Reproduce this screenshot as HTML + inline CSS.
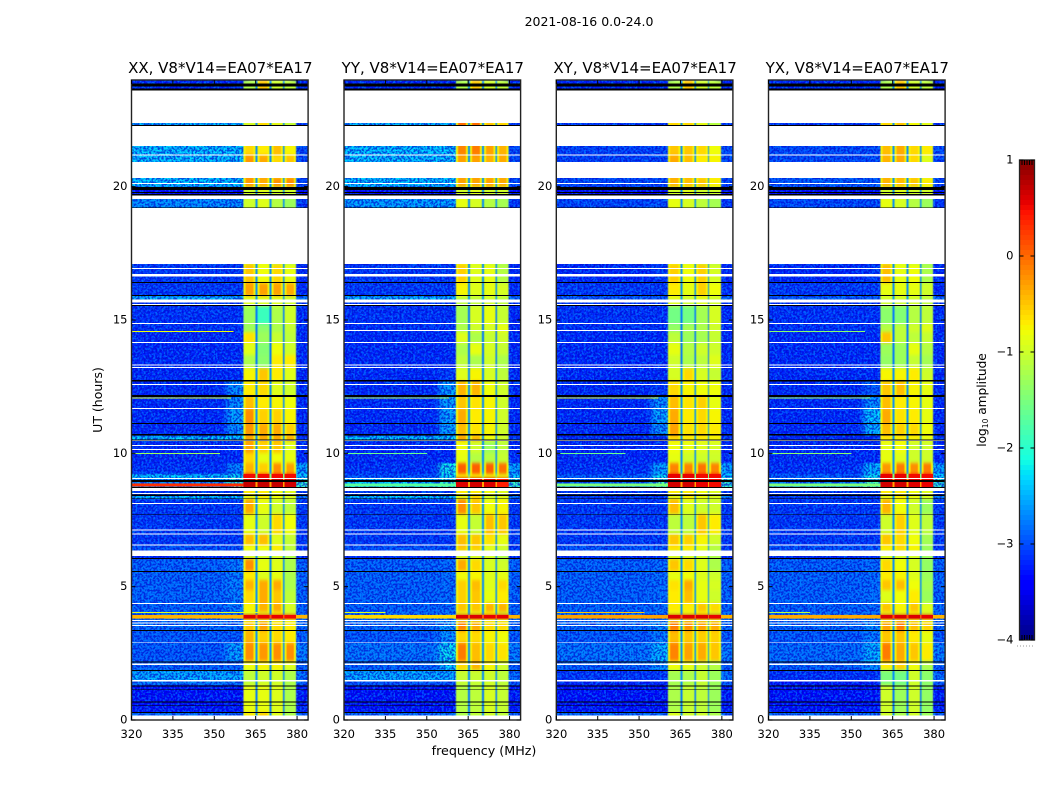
<!DOCTYPE html>
<html>
<head>
<meta charset="utf-8">
<title>2021-08-16 amplitude waterfall</title>
<style>
html,body{margin:0;padding:0;background:#fff;width:1050px;height:800px;overflow:hidden}
svg{display:block}
text{font-family:"DejaVu Sans","Liberation Sans",sans-serif;fill:#000}
</style>
</head>
<body>
<svg id="chart" xmlns="http://www.w3.org/2000/svg" width="1050" height="800" viewBox="0 0 1050 800">
  <defs>
    <filter id="speckle-light" x="0" y="0" width="1" height="1" color-interpolation-filters="sRGB">
      <feTurbulence type="fractalNoise" baseFrequency="0.45" numOctaves="1" seed="4"/>
      <feColorMatrix type="matrix" values="0 0 0 0 0  0 0 0 0 0.55  0 0 0 0 1  12 0 0 0 -5.7"/>
    </filter>
    <filter id="speckle-dark" x="0" y="0" width="1" height="1" color-interpolation-filters="sRGB">
      <feTurbulence type="fractalNoise" baseFrequency="0.5" numOctaves="1" seed="11"/>
      <feColorMatrix type="matrix" values="0 0 0 0 0  0 0 0 0 0  0 0 0 0 0.8  0 12 0 0 -5.7"/>
    </filter>
    <filter id="soften-background" x="-0.1" y="-0.02" width="1.2" height="1.04" color-interpolation-filters="sRGB">
      <feGaussianBlur stdDeviation="3 0.4"/>
    </filter>
    <filter id="soften-channels" x="-0.1" y="-0.02" width="1.2" height="1.04" color-interpolation-filters="sRGB">
      <feGaussianBlur stdDeviation="0.5 1.5"/>
    </filter>
  </defs>
  <text x="589" y="26" font-size="12.5" text-anchor="middle">2021-08-16 0.0-24.0</text>
  <text transform="translate(102,400) rotate(-90)" font-size="12.5" text-anchor="middle">UT (hours)</text>
  <text x="484" y="755" font-size="12.7" text-anchor="middle">frequency (MHz)</text>
  <g id="panels"></g>
  <g id="colorbar"></g>
  <text transform="translate(986,400) rotate(-90)" font-size="12.2" text-anchor="middle">log<tspan font-size="7.5" dy="2">10</tspan><tspan dy="-2"> amplitude</tspan></text>
</svg>
<script>
// ---------- axis tick values ----------
const freqTicks = [320, 335, 350, 365, 380];
const hourTicks = [0, 5, 10, 15, 20];
const colorbarTicks = [1, 0, -1, -2, -3, -4];
const panelTitles = ['XX, V8*V14=EA07*EA17', 'YY, V8*V14=EA07*EA17', 'XY, V8*V14=EA07*EA17', 'YX, V8*V14=EA07*EA17'];

// ---------- row boundaries (UT hours, top to bottom) ----------
const rowEdges = [24,23.59,22.28,21.19,20.33,19.99,19.65,19.2,17.1,16.39,15.9,15.75,15.53,14.85,14.55,14.14,13.69,13.2,12.71,12.15,11.66,11.1,10.65,10.46,10.01,9.64,9.23,9.08,8.7,8.44,8.29,7.73,6.98,6.56,6.34,6.04,5.59,5.25,4.88,4.39,4.05,3.94,3.81,3.71,3.34,2.89,2.21,1.88,1.46,1.31,0.3,0.15,0];

// ---------- frequency segments (MHz) ----------
const backgroundBand = [320, 354.5];
const shoulderBand = [354.5, 360.5];
const channelBands = [[360.5, 365], [365.7, 370.1], [370.7, 374.9], [375.4, 379.7]];
const rightBand = [379.7, 384];

// ---------- log10 amplitude, background per row ----------
const backgroundXX = [-3.2,-2.4,-2.3,-2.3,-2.3,-3.4,-2.6,-3.1,-3.1,-3.1, -2.4,-3.1,-3.15,-3.15,-3.2,-3.2,-3.2,-3.2,-3.2,-3.2, -3.2,-3.2,-2.3,-3.2,-3.2,-3.15,-2.3,-2.6,-3.1,-2.3, -3.1,-3.1,-3.1,-2.95,-3.2,-2.85,-2.85,-2.85,-2.85,-2.85, -2.8,-0.4,-2.8,-2.8,-2.9,-2.9,-2.85,-2.45,-2.7,-3.35, -2.8,-2.8];
const backgroundYY = [-3.2,-2.4,-2.3,-2.3,-2.3,-3.4,-2.5,-3.1,-3.1,-3.1, -2.4,-3.1,-3.15,-3.15,-3.2,-3.2,-3.2,-3.2,-3.2,-3.2, -3.2,-3.2,-2.3,-3.2,-3.2,-3.15,-3,-2.3,-3.1,-2.3, -3.1,-3.1,-3.1,-2.95,-3.2,-2.85,-2.85,-2.85,-2.85,-2.85, -2.8,-0.6,-2.8,-2.8,-2.9,-2.75,-2.85,-2.45,-2.9,-3.35, -2.8,-2.8];
const backgroundXY = [-3.2,-3.1,-3.05,-3.05,-3,-3.4,-3,-3.1,-3.2,-3.1, -2.9,-3.1,-3.15,-3.15,-3.2,-3.2,-3.2,-3.2,-3.2,-3.2, -3.2,-3.2,-3.2,-3.2,-3.2,-3.15,-2.9,-2.8,-3.1,-3.1, -3.1,-3.1,-3.1,-2.95,-3.2,-2.85,-2.85,-2.85,-2.85,-2.85, -2.8,-0.3,-2.8,-2.8,-2.9,-2.75,-2.85,-3.1,-3.2,-3.35, -2.8,-2.8];
const backgroundYX = [-3.2,-3.1,-3,-3,-2.9,-3.4,-3,-3.1,-3.2,-3.1, -2.9,-3.1,-3.15,-3.15,-3.2,-3.2,-3.2,-3.2,-3.2,-3.2, -3.2,-3.2,-3.2,-3.2,-3.2,-3.15,-2.9,-2.7,-3.1,-3.1, -3.1,-3.1,-3.1,-2.95,-3.2,-2.85,-2.85,-2.85,-2.85,-2.85, -2.8,-0.35,-2.8,-2.8,-2.9,-2.8,-2.85,-3.15,-3.3,-3.35, -2.8,-2.8];

// ---------- log10 amplitude, band shoulder per row ----------
const shoulderXX = [-3.2,-2.4,-2.3,-2.3,-2.3,-3.4,-2.6,-3.1,-3.1,-3.1, -2.4,-3.1,-3.15,-3.15,-3.2,-3.2,-3.2,-3.2,-2.6,-2.6, -2.5,-2.6,-2.3,-3.2,-3.2,-2.7,-2.2,-1.9,-3.1,-2.3, -3.1,-3.1,-3.1,-2.95,-3.2,-2.7,-2.7,-2.7,-2.7,-2.7, -2.8,-0.4,-2.8,-2.8,-2.9,-2.5,-2.85,-2.45,-2.7,-3.35, -2.8,-2.8];
const shoulderYY = [-3.2,-2.4,-2.3,-2.3,-2.3,-3.4,-2.5,-3.1,-3.1,-3.1, -2.4,-3.1,-3.15,-3.15,-3.2,-3.2,-3.2,-3.1,-2.5,-2.5, -2.5,-2.5,-2.3,-3.2,-3.2,-2.15,-2.2,-1.9,-3.1,-2.3, -3.1,-3.1,-3.1,-2.95,-3.2,-2.8,-2.8,-2.8,-2.8,-2.8, -2.8,-0.6,-2.8,-2.5,-2.6,-2.2,-2.3,-2.45,-2.9,-3.35, -2.8,-2.8];
const shoulderXY = [-3.2,-3.1,-3.05,-3.05,-3,-3.4,-3,-3.1,-3.1,-3.1, -2.9,-3.1,-3.15,-3.15,-3.2,-3.2,-3.2,-3.2,-3.1,-2.6, -2.5,-2.6,-3.2,-3.2,-3.2,-2.5,-2.2,-1.8,-3.1,-3.1, -3.1,-3.1,-3.1,-2.95,-3.2,-2.8,-2.8,-2.8,-2.8,-2.8, -2.8,-0.3,-2.8,-2.6,-2.7,-2.4,-2.6,-3.1,-3.2,-3.35, -2.8,-2.8];
const shoulderYX = [-3.2,-3.1,-3,-3,-2.9,-3.4,-3,-3.1,-3.1,-3.1, -2.9,-3.1,-3.15,-3.15,-3.2,-3.2,-3.2,-3.2,-2.9,-2.6, -2.3,-2.4,-3.2,-3.2,-3.2,-2.4,-2.2,-1.8,-3.1,-3.1, -3.1,-3.1,-3.1,-2.95,-3.2,-2.8,-2.8,-2.8,-2.8,-2.8, -2.8,-0.35,-2.8,-2.6,-2.7,-2.4,-2.6,-3.15,-3.3,-3.35, -2.8,-2.8];

// ---------- log10 amplitude, shared right edge and channel gaps per row ----------
const rightLevels = [-3.2,-3.1,-3,-3,-3,-3.4,-3.1,-3.1,-3.2,-3.2, -2.8,-3.1,-3.2,-3.2,-3.2,-3.2,-3.2,-3.2,-3.2,-3.2, -3.2,-3.2,-3.1,-3.2,-3.2,-2.5,-2.3,-1.9,-3.1,-2.7, -3.1,-3.1,-3.1,-3.1,-3.2,-2.85,-2.85,-2.85,-2.85,-2.85, -2.8,-0.4,-2.8,-2.8,-2.9,-2.7,-2.9,-2.8,-2.9,-3.3, -2.9,-2.9];
const gapLevels = [-2.7,-2.7,-2.7,-2.7,-2.7,-2.7,-2.7,-2.7,-2.7,-2.7, -2.6,-2.7,-2.8,-2.8,-2.8,-2.8,-2.8,-2.7,-2.7,-2.7, -2.7,-2.7,-2.7,-2.7,-2.7,-2.7,-1.5,-0.3,-2.7,-2.7, -2.7,-2.7,-2.7,-2.7,-2.7,-2.7,-2.7,-2.7,-2.7,-2.7, -2.7,0.1,-2.7,-2.7,-2.7,-2.7,-2.7,-2.7,-2.7,-2.8, -2.7,-2.7];

// ---------- log10 amplitude, four spectral channels per row ----------
const channelsXX = [[-1.2,-0.5,-1,-1.1],[-1,-0.6,-0.9,-1.1],[-0.6,-0.7,-0.45,-0.75],[-0.25,-0.35,-0.6,-0.5],[-0.25,-0.35,-0.2,-0.2],[-1,-0.9,-1,-1],[-1,-0.9,-1.15,-1.3],[-1,-0.9,-1.15,-1.3],[-0.5,-0.8,-0.6,-0.85],[-0.3,-0.3,-0.3,-0.35],
[-0.9,-0.9,-0.9,-1],[-0.9,-0.9,-0.9,-1],[-1.3,-1.9,-1.2,-1],[-1.3,-1.4,-1.2,-1.05],[-0.65,-1.3,-1.05,-1.1],[-0.9,-1.45,-0.8,-1],[-1.2,-1.4,-0.7,-0.7],[-0.75,-0.5,-0.7,-0.9],[-0.7,-0.6,-0.9,-1],[-0.45,-0.7,-0.75,-0.8],
[-0.2,-0.55,-0.55,-0.75],[-0.25,-0.35,-0.35,-0.55],[-0.35,-0.35,-0.35,-0.35],[-0.3,-0.55,-0.5,-0.9],[-0.6,-0.85,-0.8,-0.85],[-0.4,-0.55,-0.2,-0.3],[0.5,0.5,0.5,0.5],[0.7,0.7,0.7,0.65],[-0.7,-0.7,-0.8,-0.9],[-0.9,-0.7,-0.8,-0.9],
[-0.35,-0.85,-1,-1.1],[-0.85,-1,-0.6,-0.8],[-0.45,-0.45,-0.9,-1.05],[-0.8,-0.8,-0.7,-1.1],[-1,-1,-1,-1.2],[-0.2,-0.85,-0.9,-1.2],[-0.7,-0.9,-0.85,-1.2],[-0.4,-0.35,-0.35,-1.2],[-0.6,-0.35,-0.5,-1.1],[-0.75,-0.4,-0.35,-0.95],
[-0.9,-0.9,-0.8,-1],[0.6,0.55,0.55,0.5],[-0.9,-0.9,-0.9,-0.95],[-0.5,-0.3,-0.6,-0.7],[-0.4,-0.55,-0.6,-0.7],[-0.2,-0.25,-0.2,-0.2],[-0.8,-0.75,-0.75,-0.9],[-1.1,-1,-1,-1.2],[-1.1,-1,-1,-1.2],[-0.85,-0.85,-0.9,-1.2],
[-0.7,-0.55,-0.9,-1.2],[-0.7,-0.55,-0.9,-1.2]];
const channelsYY = [[-1.2,-0.5,-1,-1.1],[0,0,-0.5,-0.6],[-0.15,-0.1,-0.3,-0.4],[-0.3,-0.3,-0.4,-0.35],[-0.3,-0.3,-0.3,-0.35],[-1,-0.9,-1,-1],[-0.85,-0.95,-1.15,-1.25],[-0.85,-0.95,-1.15,-1.25],[-0.55,-0.9,-0.85,-1.15],[-0.75,-0.9,-0.85,-0.95],
[-1.1,-1.1,-1,-1.1],[-1.1,-1.1,-1,-1.1],[-1.25,-0.95,-0.85,-1.05],[-1.2,-1,-0.95,-0.85],[-0.9,-1.2,-1.05,-1],[-1.2,-0.85,-0.95,-1.05],[-1.1,-1.2,-1,-1.2],[-0.9,-0.75,-0.95,-1.1],[-0.4,-0.4,-0.8,-1],[-0.5,-0.65,-0.75,-1],
[-0.35,-0.7,-0.75,-1],[-0.45,-0.65,-0.75,-1],[-0.3,-0.4,-0.8,-1],[-0.8,-1,-1.3,-1.1],[-0.85,-1.15,-1.15,-1.05],[0.05,0.05,0.05,-0.05],[-0.75,-0.75,-0.8,-0.85],[0.6,0.65,0.6,0.4],[-0.7,-0.7,-0.8,-0.9],[-0.9,-0.6,-1,-0.9],
[-0.2,-0.5,-0.8,-0.75],[-0.85,-1.05,-0.45,-0.5],[-0.45,-0.5,-0.65,-0.85],[-0.5,-0.55,-0.9,-1],[-1,-1,-1,-1.2],[-0.35,-0.6,-0.95,-1],[-0.8,-0.75,-0.9,-0.85],[-0.55,-0.45,-0.9,-0.6],[-0.55,-0.5,-0.85,-0.7],[-0.5,-0.5,-0.4,-0.4],
[-0.9,-0.9,-0.8,-1],[0.6,0.6,0.55,0.55],[-0.9,-0.9,-0.9,-0.95],[-0.15,-0.35,-0.6,-0.6],[-0.6,-0.6,-0.75,-0.8],[-0.1,-0.45,-0.6,-0.65],[-0.6,-0.4,-0.75,-1],[-1.05,-1.05,-1,-1.1],[-1.05,-1.05,-1,-1.1],[-1.15,-1.1,-0.95,-1.05],
[-1.2,-1.1,-1,-1.1],[-1.2,-1.1,-1,-1.1]];
const channelsXY = [[-1.2,-0.5,-1,-1.1],[-0.6,-0.6,-0.9,-1.2],[-0.5,-0.5,-0.6,-0.8],[-0.35,-0.45,-0.7,-0.75],[-0.4,-0.45,-0.5,-0.7],[-1,-0.9,-1,-1],[-0.85,-0.95,-1.1,-1.25],[-0.85,-0.95,-1.1,-1.25],[-0.55,-0.8,-0.55,-0.95],[-0.7,-0.85,-0.55,-0.8],
[-0.9,-1,-0.9,-1],[-0.9,-1,-0.9,-1],[-1.55,-1.55,-1.25,-0.95],[-1.35,-1.25,-1.2,-1],[-1.1,-1.3,-1.25,-1.05],[-0.85,-1.15,-1,-1],[-1,-1.2,-1.1,-0.9],[-0.95,-0.6,-0.95,-1.05],[-0.6,-0.75,-0.8,-0.8],[-0.45,-0.65,-0.55,-0.85],
[-0.35,-0.7,-0.6,-0.75],[-0.3,-0.65,-0.6,-0.7],[-0.6,-0.7,-0.7,-0.75],[-0.8,-0.85,-0.9,-0.95],[-0.85,-1,-1,-1],[-0.15,-0.15,-0.05,-0.15],[0.55,0.55,0.5,0.5],[0.65,0.65,0.55,0.5],[-0.7,-0.7,-0.8,-0.9],[-0.9,-0.7,-0.8,-0.9],
[-0.45,-0.9,-1,-1],[-1.1,-1.1,-0.5,-0.7],[-0.5,-0.55,-0.75,-1],[-0.65,-0.7,-0.85,-1.15],[-1,-1,-1,-1.2],[-0.5,-0.6,-0.9,-1.2],[-0.85,-0.8,-0.9,-1],[-0.65,-0.35,-0.85,-0.95],[-0.7,-0.45,-0.85,-1],[-0.7,-0.7,-0.5,-0.6],
[-0.9,-0.9,-0.8,-1],[0.6,0.6,0.6,0.55],[-0.9,-0.9,-0.9,-0.95],[-0.1,-0.2,-0.3,-0.35],[-0.45,-0.5,-0.55,-0.55],[-0.15,-0.3,-0.35,-0.5],[-0.8,-0.85,-1,-1.15],[-1.25,-1.2,-1.05,-1.3],[-1.25,-1.2,-1.05,-1.3],[-1.2,-1.05,-1.1,-1.3],
[-0.9,-1,-1,-1.2],[-0.9,-1,-1,-1.2]];
const channelsYX = [[-1.2,-0.5,-1,-1.1],[-0.6,-0.5,-0.8,-0.9],[-0.45,-0.35,-0.6,-0.7],[-0.4,-0.35,-0.6,-0.9],[-0.4,-0.45,-0.5,-0.7],[-1,-0.9,-1,-1],[-0.85,-0.95,-1.15,-1.3],[-0.85,-0.95,-1.15,-1.3],[-0.45,-0.85,-0.8,-1.2],[-0.85,-0.85,-0.85,-1],
[-1,-1,-1,-1.1],[-1,-1,-1,-1.1],[-1.4,-1.45,-1.15,-1.1],[-1.15,-1.1,-1,-0.9],[-0.5,-1.1,-1.1,-1.05],[-1.3,-1.3,-0.85,-1.15],[-1.35,-1.3,-1.05,-1.25],[-0.75,-0.75,-0.7,-1],[-0.5,-0.45,-0.75,-0.85],[-0.45,-0.7,-0.75,-0.85],
[-0.35,-0.65,-0.7,-0.85],[-0.45,-0.55,-0.6,-0.8],[-0.7,-0.7,-0.75,-0.85],[-0.85,-0.8,-1,-1],[-0.85,-0.9,-1,-1],[-0.25,-0.1,-0.2,-0.1],[0.55,0.55,0.5,0.5],[0.65,0.65,0.6,0.55],[-0.7,-0.7,-0.8,-0.9],[-0.9,-0.7,-0.8,-0.9],
[-0.4,-0.8,-1,-1.3],[-1,-0.55,-0.9,-1.1],[-0.5,-0.6,-0.8,-1.25],[-0.7,-0.6,-0.75,-1.3],[-1,-1,-1,-1.3],[-0.6,-0.8,-0.95,-1.35],[-0.7,-0.75,-0.9,-1.3],[-0.5,-0.45,-0.8,-1.25],[-0.9,-0.8,-0.7,-1.3],[-0.5,-0.75,-0.5,-0.9],
[-0.9,-0.9,-0.8,-1],[0.6,0.6,0.6,0.55],[-0.9,-0.9,-0.9,-0.95],[-0.3,-0.1,-0.45,-0.55],[-0.5,-0.5,-0.7,-0.85],[-0.1,-0.35,-0.5,-0.7],[-0.7,-0.55,-0.8,-1.2],[-1.5,-1.55,-1,-1.4],[-1.5,-1.55,-1,-1.4],[-1,-1.3,-1,-1.35],
[-1,-1.2,-1,-1.3],[-1,-1.2,-1,-1.3]];

// ---------- flagged data (UT hour ranges) ----------
const whiteBands = [[23.6,22.39],[22.28,21.53],[21.21,21.17],[20.93,20.33],[20.14,20.1],[19.67,19.54],[19.2,17.1],[16.95,16.91],[16.73,16.63],[15.77,15.65],[15.6,15.56],[14.89,14.85],[14.18,14.14],[13.34,13.29],[13.24,13.2],[12.6,12.56],[11.7,11.66],[10.5,10.46],[10.31,10.275],[10.16,10.125],[9.08,9.04],[8.7,8.59],[8.52,8.48],[8.14,8.1],[7.15,7.11],[7,6.96],[6.59,6.55],[6.35,6.15],[4.39,4.35],[3.75,3.71],[3.65,3.61],[3.56,3.53],[2.91,2.88],[2.11,2.06],[1.5,1.45],[0.16,0]];
const whiteBandsCrossOnly = [[14.62,14.58]];
const blackBands = [[23.87,23.76],[23.69,23.6],[22.31,22.28],[19.99,19.88],[19.8,19.76],[19.73,19.67],[19.22,19.2],[16.43,16.39],[15.94,15.9],[15.56,15.53],[12.75,12.69],[12.19,12.12],[11.14,11.1],[10.73,10.66],[10.52,10.48],[9,8.92],[8.74,8.7],[8.45,8.4],[8.31,8.28],[7.71,7.68],[6.08,6.04],[5.59,5.55],[3.38,3.34],[2.19,2.16],[1.88,1.84],[1.3,1.26],[1.15,1.125],[0.69,0.66],[0.55,0.525],[0.3,0.26]];

// ---------- narrow-band interference ----------
const spikeHours = [14.56, 12.08, 10.0, 4.04];
const spikeLevelsXX = [-0.8, -0.9, -1.3, -0.9];
const spikeLevelsYY = [-1.0, -1.2, -1.6, -0.9];
const spikeLevelsXY = [-1.0, -0.9, -1.6, -0.5];
const spikeLevelsYX = [-1.4, -1.3, -1.4, -1.1];
const spikeEndsXX = [357, 356, 352, 366];
const spikeEndsYY = [320, 358, 350, 335];
const spikeEndsXY = [320, 357, 345, 352];
const spikeEndsYX = [355, 357, 350, 335];

// ---------- broad interference stripe near 8.8 UT ----------
const stripeHours = [8.87, 8.75];
const stripeLevelXX = 0.3;
const stripeLevelYY = -1.7;
const stripeLevelXY = -1.5;
const stripeLevelYX = -1.5;

// ---------- colorbar hatch positions (levels at which short end marks sit) ----------
const colorbarHatchOffsets = [2.5, 5, 7.5, 10, 12.5];

// ---------- panel registry ----------
const panelLefts = [131.5, 344, 556.3, 768.5];
const panelWidth = 176.6;
const panelSeries = [
  {key:'xx', bg:backgroundXX, sh:shoulderXX, ch:channelsXX, sl:spikeLevelsXX, se:spikeEndsXX, stripe:stripeLevelXX, cross:false},
  {key:'yy', bg:backgroundYY, sh:shoulderYY, ch:channelsYY, sl:spikeLevelsYY, se:spikeEndsYY, stripe:stripeLevelYY, cross:true},
  {key:'xy', bg:backgroundXY, sh:shoulderXY, ch:channelsXY, sl:spikeLevelsXY, se:spikeEndsXY, stripe:stripeLevelXY, cross:true},
  {key:'yx', bg:backgroundYX, sh:shoulderYX, ch:channelsYX, sl:spikeLevelsYX, se:spikeEndsYX, stripe:stripeLevelYX, cross:false}
];

const NS = 'http://www.w3.org/2000/svg';
const plotTop = 80, plotBottom = 720;
const freqMin = 320, freqMax = 384, hourMin = 0, hourMax = 24;
const levelMin = -4, levelMax = 1;

function yScale(h){ return plotBottom - (h - hourMin) / (hourMax - hourMin) * (plotBottom - plotTop); }
function xScale(left, f){ return left + (f - freqMin) / (freqMax - freqMin) * panelWidth; }

function ramp(t, a, b, c, d, lo, hi){
  if (t <= a) return lo;
  if (t < b) return lo + (hi - lo) * (t - a) / (b - a);
  if (t <= c) return hi;
  if (t < d) return hi + (lo - hi) * (t - c) / (d - c);
  return lo;
}
function jet(level){
  const t = Math.max(0, Math.min(1, (level - levelMin) / (levelMax - levelMin)));
  const r = t < 0.89 ? ramp(t, 0.35, 0.66, 2, 3, 0, 1) : 1 - (t - 0.89) / 0.11 * 0.5;
  const g = ramp(t, 0.125, 0.375, 0.64, 0.91, 0, 1);
  const b = t < 0.11 ? 0.5 + t / 0.11 * 0.5 : ramp(t, -1, -0.5, 0.34, 0.65, 0, 1);
  return 'rgb(' + Math.round(r * 255) + ',' + Math.round(g * 255) + ',' + Math.round(b * 255) + ')';
}
function rectEl(parent, x, y, w, h, fill, name){
  const el = document.createElementNS(NS, 'rect');
  
  
  el.setAttribute('x', x);
  el.setAttribute('y', y);
  el.setAttribute('width', Math.max(w, 0));
  el.setAttribute('height', Math.max(h, 0));
  el.setAttribute('fill', fill);
  el.setAttribute('shape-rendering', 'crispEdges');
  parent.appendChild(el);
  return el;
}
function lineEl(parent, x1, y1, x2, y2, name){
  const el = document.createElementNS(NS, 'line');
  
  
  el.setAttribute('x1', x1);
  el.setAttribute('y1', y1);
  el.setAttribute('x2', x2);
  el.setAttribute('y2', y2);
  el.setAttribute('stroke', '#000');
  el.setAttribute('stroke-width', '1');
  parent.appendChild(el);
  return el;
}
function textEl(parent, x, y, str, size, anchor, name){
  const el = document.createElementNS(NS, 'text');
  
  
  el.setAttribute('x', x);
  el.setAttribute('y', y);
  el.setAttribute('font-size', size);
  el.setAttribute('text-anchor', anchor);
  el.textContent = str;
  parent.appendChild(el);
  return el;
}
function edgeLevel(v){
  if (v > 0.3) return v;
  return Math.min(v, -0.75);
}

const panelsRoot = document.getElementById('panels');
const svgDefs = document.querySelector('#chart defs');

panelSeries.forEach(function(series, pi){
  const left = panelLefts[pi];
  const g = document.createElementNS(NS, 'g');
  
  
  panelsRoot.appendChild(g);
  const X = function(f){ return xScale(left, f); };

  const clip = document.createElementNS(NS, 'clipPath');
  clip.setAttribute('id', 'clip-' + series.key);
  const clipRect = document.createElementNS(NS, 'rect');
  clipRect.setAttribute('x', left);
  clipRect.setAttribute('y', plotTop);
  clipRect.setAttribute('width', panelWidth);
  clipRect.setAttribute('height', plotBottom - plotTop);
  clip.appendChild(clipRect);
  svgDefs.appendChild(clip);

  const clipped = document.createElementNS(NS, 'g');
  
  
  clipped.setAttribute('clip-path', 'url(#clip-' + series.key + ')');
  g.appendChild(clipped);

  const baseLayer = document.createElementNS(NS, 'g');
  
  
  baseLayer.setAttribute('filter', 'url(#soften-background)');
  clipped.appendChild(baseLayer);

  // background cells (extended past the panel so the soft edge is clipped off)
  for (let r = 0; r < rowEdges.length - 1; r++){
    const y0 = yScale(rowEdges[r]);
    const y1 = yScale(rowEdges[r + 1]);
    const h = y1 - y0;
    rectEl(baseLayer, X(backgroundBand[0]) - (X(backgroundBand[1]) - X(backgroundBand[0])) - 12, y0, 2 * (X(backgroundBand[1]) - X(backgroundBand[0])) + 12, h, jet(series.bg[r]), 'background-cell');
    rectEl(baseLayer, X(shoulderBand[0]), y0, X(shoulderBand[1]) - X(shoulderBand[0]) + 4, h, jet(series.sh[r]), 'shoulder-cell');
    rectEl(baseLayer, X(rightBand[0]) - 4, y0, X(rightBand[1]) - X(rightBand[0]) + 16, h, jet(rightLevels[r]), 'right-edge-cell');
  }

  // receiver-noise texture (visual grain only, not data)
  [[backgroundBand[0], shoulderBand[1]], [rightBand[0], rightBand[1]]].forEach(function(span){
    const a = rectEl(clipped, X(span[0]), plotTop, X(span[1]) - X(span[0]), plotBottom - plotTop, '#fff', 'noise-grain-light');
    a.setAttribute('filter', 'url(#speckle-light)');
    a.setAttribute('opacity', '0.55');
    const b = rectEl(clipped, X(span[0]), plotTop, X(span[1]) - X(span[0]), plotBottom - plotTop, '#fff', 'noise-grain-dark');
    b.setAttribute('filter', 'url(#speckle-dark)');
    b.setAttribute('opacity', '0.6');
  });

  // channel cells
  const chanLayer = document.createElementNS(NS, 'g');
  
  
  chanLayer.setAttribute('filter', 'url(#soften-channels)');
  clipped.appendChild(chanLayer);
  for (let r = 0; r < rowEdges.length - 1; r++){
    const y0 = yScale(rowEdges[r]);
    const y1 = yScale(rowEdges[r + 1]);
    const h = y1 - y0;
    rectEl(chanLayer, X(channelBands[0][0]), y0, X(rightBand[0]) - X(channelBands[0][0]), h, jet(gapLevels[r]), 'channel-gap-cell');
    channelBands.forEach(function(band, c){
      const v = series.ch[r][c];
      const x0 = X(band[0]), x1 = X(band[1]);
      rectEl(chanLayer, x0, y0, x1 - x0, h, jet(edgeLevel(v)), 'channel-edge-cell');
      rectEl(chanLayer, x0 + 2, y0, x1 - x0 - 4, h, jet(v), 'channel-cell');
    });
  }

  // strong broadband rows sit sharp above the soft layers
  for (let r = 0; r < rowEdges.length - 1; r++){
    const y0 = yScale(rowEdges[r]);
    const y1 = yScale(rowEdges[r + 1]);
    if (series.bg[r] > -1.5){
      rectEl(clipped, X(backgroundBand[0]), y0, X(shoulderBand[1]) - X(backgroundBand[0]), y1 - y0, jet(series.bg[r]), 'broadband-interference-band');
      rectEl(clipped, X(rightBand[0]), y0, X(rightBand[1]) - X(rightBand[0]), y1 - y0, jet(rightLevels[r]), 'broadband-interference-band');
    }
    if (series.ch[r][0] > 0.3){
      rectEl(clipped, X(channelBands[0][0]), y0, X(rightBand[0]) - X(channelBands[0][0]), y1 - y0, jet(gapLevels[r]), 'channel-gap-cell');
      channelBands.forEach(function(band, c){
        rectEl(clipped, X(band[0]), y0, X(band[1]) - X(band[0]), y1 - y0, jet(series.ch[r][c]), 'saturated-channel-cell');
      });
    }
  }

  // broad stripe
  rectEl(clipped, X(freqMin), yScale(stripeHours[0]), X(channelBands[0][0]) - X(freqMin), yScale(stripeHours[1]) - yScale(stripeHours[0]), jet(series.stripe), 'interference-stripe');

  // narrow-band spikes
  spikeHours.forEach(function(hr, s){
    rectEl(clipped, X(freqMin), yScale(hr) - 0.5, X(series.se[s]) - X(freqMin), 1, jet(series.sl[s]), 'interference-line');
  });

  // flagged rows
  whiteBands.forEach(function(b){
    rectEl(clipped, X(freqMin), yScale(b[0]), panelWidth, yScale(b[1]) - yScale(b[0]), '#fff', 'flagged-white-band');
  });
  if (series.cross){
    whiteBandsCrossOnly.forEach(function(b){
      rectEl(clipped, X(freqMin), yScale(b[0]), panelWidth, yScale(b[1]) - yScale(b[0]), '#fff', 'flagged-white-band');
    });
  }
  blackBands.forEach(function(b){
    rectEl(clipped, X(freqMin), yScale(b[0]), panelWidth, yScale(b[1]) - yScale(b[0]), '#000', 'zero-amplitude-band');
  });

  // frame
  const frame = document.createElementNS(NS, 'rect');
  
  
  frame.setAttribute('x', left);
  frame.setAttribute('y', plotTop);
  frame.setAttribute('width', panelWidth);
  frame.setAttribute('height', plotBottom - plotTop);
  frame.setAttribute('fill', 'none');
  frame.setAttribute('stroke', '#222');
  frame.setAttribute('stroke-width', '1.4');
  g.appendChild(frame);

  // ticks and labels
  freqTicks.forEach(function(f){
    const x = X(f);
    lineEl(g, x, plotBottom, x, plotBottom - 4, 'x-tick');
    lineEl(g, x, plotTop, x, plotTop + 4, 'x-tick-top');
    textEl(g, x, plotBottom + 18, String(f), 11.5, 'middle', 'x-tick-label');
  });
  hourTicks.forEach(function(hr){
    const y = yScale(hr);
    lineEl(g, left, y, left + 4, y, 'y-tick');
    lineEl(g, left + panelWidth, y, left + panelWidth - 4, y, 'y-tick-right');
    textEl(g, left - 4, y + 3.5, String(hr), 11.5, 'end', 'y-tick-label');
  });
  textEl(g, left + panelWidth / 2 + 0.5, 73, panelTitles[pi], 15, 'middle', 'panel-title');
});

// ---------- colorbar ----------
const cbarRoot = document.getElementById('colorbar');
const cbarX = 1019.5, cbarW = 15, cbarTop = 160, cbarBottom = 640;
const cbarSteps = 96;
function cbarY(v){ return cbarBottom - (v - levelMin) / (levelMax - levelMin) * (cbarBottom - cbarTop); }
for (let i = 0; i < cbarSteps; i++){
  const v0 = levelMin + (levelMax - levelMin) * i / cbarSteps;
  const v1 = levelMin + (levelMax - levelMin) * (i + 1) / cbarSteps;
  rectEl(cbarRoot, cbarX, cbarY(v1), cbarW, cbarY(v0) - cbarY(v1), jet((v0 + v1) / 2), 'colorbar-step');
}
const cbarFrame = document.createElementNS(NS, 'rect');


cbarFrame.setAttribute('x', cbarX);
cbarFrame.setAttribute('y', cbarTop);
cbarFrame.setAttribute('width', cbarW);
cbarFrame.setAttribute('height', cbarBottom - cbarTop);
cbarFrame.setAttribute('fill', 'none');
cbarFrame.setAttribute('stroke', '#222');
cbarFrame.setAttribute('stroke-width', '1.3');
cbarRoot.appendChild(cbarFrame);
colorbarTicks.forEach(function(v){
  const y = cbarY(v);
  lineEl(cbarRoot, cbarX, y, cbarX + 4, y, 'colorbar-tick');
  lineEl(cbarRoot, cbarX + cbarW, y, cbarX + cbarW - 4, y, 'colorbar-tick');
  textEl(cbarRoot, cbarX - 6, y + 3.5, String(v).replace('-', '\u2212'), 11.5, 'end', 'colorbar-tick-label');
});
colorbarHatchOffsets.forEach(function(dx){
  lineEl(cbarRoot, cbarX + dx, cbarTop, cbarX + dx, cbarTop + 5, 'colorbar-end-mark');
  lineEl(cbarRoot, cbarX + dx, cbarBottom, cbarX + dx, cbarBottom - 5, 'colorbar-end-mark');
});
const cbarDots = lineEl(cbarRoot, 1017, 646, 1035, 646, 'colorbar-minor-dots');
cbarDots.setAttribute('stroke', '#999');
cbarDots.setAttribute('stroke-dasharray', '1 2');
</script>
</body>
</html>
